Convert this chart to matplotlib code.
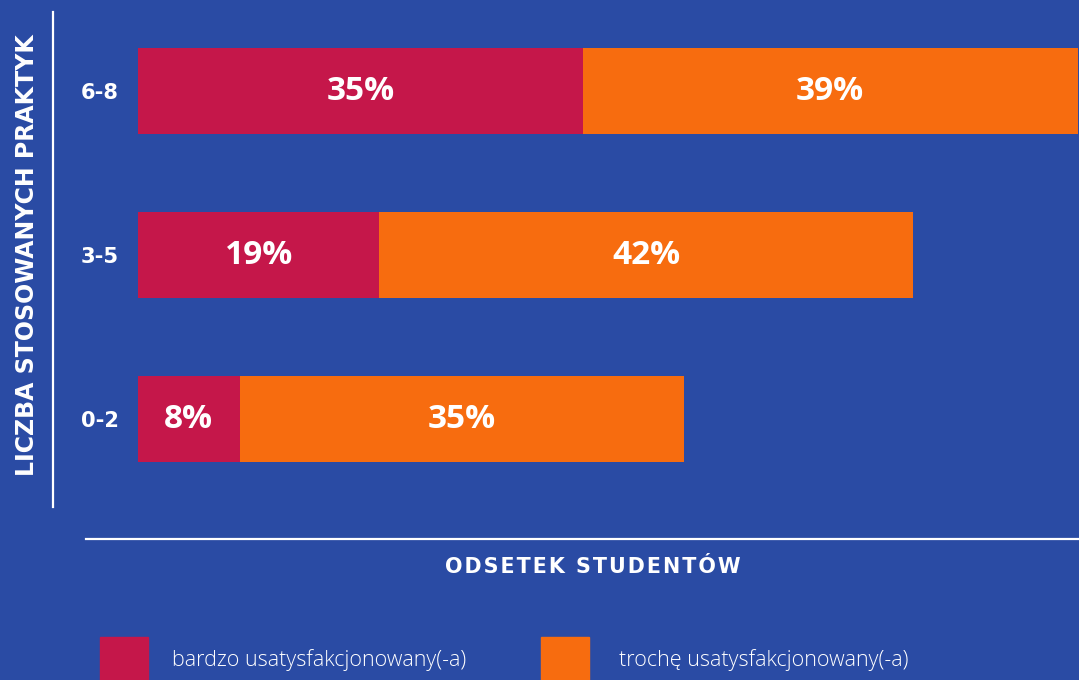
import matplotlib.pyplot as plt
from matplotlib.lines import Line2D
from matplotlib.patches import Rectangle
from matplotlib.transforms import IdentityTransform

# dane
kategorie = ['0-2', '3-5', '6-8']
bardzo = [8, 19, 35]
troche = [35, 42, 39]
legenda = ['bardzo usatysfakcjonowany(-a)', 'trochę usatysfakcjonowany(-a)']
os_x = 'ODSETEK STUDENTÓW'
os_y = 'LICZBA STOSOWANYCH PRAKTYK'

TLO = '#2a4ba4'
CZERWONY = '#c5174a'
POMARANCZ = '#f76c0f'
W, H = 1079, 680

plt.rcParams['font.family'] = ['Open Sans', 'DejaVu Sans']

fig = plt.figure(figsize=(W / 100, H / 100), dpi=100, facecolor=TLO)
ax = fig.add_axes([138 / W, (H - 501) / H, (W - 138) / W, 492 / H])
ax.set_facecolor(TLO)
r = fig.canvas.get_renderer()


def szer(s, **kw):
    t = fig.text(0, 0, s, transform=IdentityTransform(), **kw)
    w = t.get_window_extent(r).width
    t.remove()
    return w


def z_odstepami(s, dlugosc, fontsize, **kw):
    # jeden tekst z waskimi spacjami miedzy literami, rozmiar dopasowany do dlugosci
    najl = None
    for sep in ['', '\u200a', '\u2009', '\u2006', '\u2005']:
        t = sep.join(s)
        w = szer(t, fontsize=fontsize, **kw)
        if najl is None or abs(w - dlugosc) < abs(najl[1] - dlugosc):
            najl = (t, w)
    return najl[0], fontsize * dlugosc / najl[1]


y = range(len(kategorie))
ax.barh(y, bardzo, height=0.52, color=CZERWONY)
ax.barh(y, troche, left=bardzo, height=0.52, color=POMARANCZ)

for i in y:
    ax.text(bardzo[i] / 2, i, f'{bardzo[i]}%', ha='center', va='center',
            color='white', fontsize=24, fontweight='bold')
    ax.text(bardzo[i] + troche[i] / 2, i, f'{troche[i]}%', ha='center', va='center',
            color='white', fontsize=24, fontweight='bold')

ax.set_xlim(0, 941 / 12.7)
ax.set_ylim(-0.5, 2.5)
ax.set_yticks([])
ax.set_xticks([])
for s in ax.spines.values():
    s.set_visible(False)

# etykiety kategorii
dj = dict(color='white', fontweight='bold', family='DejaVu Sans', transform=IdentityTransform())
for i, k in enumerate(kategorie):
    _, yc = ax.transData.transform((0, i))
    t, fs = z_odstepami(k, 38, 14.5, fontweight='bold', family='DejaVu Sans')
    fig.text(99.5, yc - 8, t, ha='center', va='baseline', fontsize=fs, **dj)

# linie osi
fig.add_artist(Line2D([53 / W, 53 / W], [1 - 12 / H, 1 - 507 / H], color='white', lw=1.6))
fig.add_artist(Line2D([86 / W, 1], [1 - 539 / H, 1 - 539 / H], color='white', lw=1.6))

tekst_x, fs_x = z_odstepami(os_x, 296, 14.5, fontweight='bold', family='DejaVu Sans')
fig.text(592.5, H - 573, tekst_x, ha='center', va='baseline', fontsize=fs_x, **dj)
tekst_y, fs_y = z_odstepami(os_y, 440, 16.5, fontweight='bold', family='DejaVu Sans')
fig.text(34, H - 255, tekst_y, rotation=90, rotation_mode='anchor', ha='center',
         va='baseline', fontsize=fs_y, **dj)

# legenda
for x0, tx, kol, lab in [(100, 172, CZERWONY, legenda[0]), (541, 619, POMARANCZ, legenda[1])]:
    fig.add_artist(Rectangle((x0 / W, 0), 48 / W, 43 / H, color=kol, transform=fig.transFigure))
    fig.text(tx / W, 1 - 666 / H, lab, ha='left', va='baseline', color='white',
             fontsize=15.5, fontweight='light')

fig.savefig('out.png', dpi=100, facecolor=TLO)
